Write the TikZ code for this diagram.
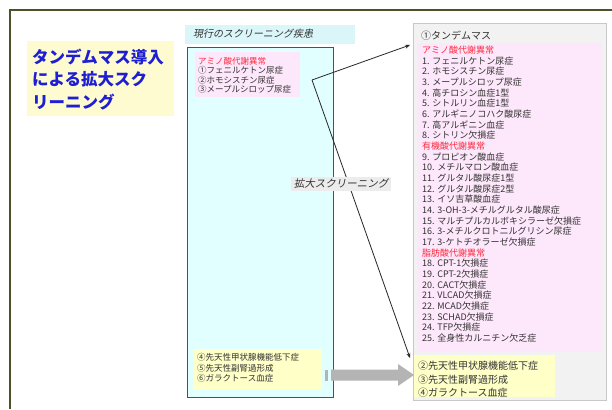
\documentclass[tikz,border=0pt]{standalone}
\usepackage{fontspec}
\setmainfont{Noto Sans CJK JP}
\newfontfamily\jpsl[FakeSlant=0.2]{Noto Sans CJK JP}
\usetikzlibrary{arrows.meta}
\definecolor{frameol}{RGB}{80,80,40}
\definecolor{cyanfill}{RGB}{226,255,255}
\definecolor{cyanband}{RGB}{218,246,248}
\definecolor{pinkfill}{RGB}{253,231,250}
\definecolor{yelfill}{RGB}{255,255,200}
\definecolor{titleyel}{RGB}{255,251,208}
\definecolor{titleblue}{RGB}{30,30,210}
\definecolor{grayfill}{RGB}{242,242,242}
\definecolor{grayline}{RGB}{200,200,200}
\definecolor{boxline}{RGB}{80,80,80}
\definecolor{txtgray}{RGB}{50,50,50}
\definecolor{headred}{RGB}{255,40,60}
\definecolor{arrgray}{RGB}{180,180,180}
\definecolor{lblbg}{RGB}{236,236,236}
\tikzset{
  txt/.style={anchor=base west, inner sep=0pt, text=txtgray},
  rtxt/.style={txt, font=\fontsize{9}{10}\selectfont},
  ltxt/.style={txt, font=\fontsize{8.5}{10}\selectfont},
  ytxt/.style={txt, font=\fontsize{10}{12}\selectfont},
  conn/.style={draw=black!85, line width=0.8pt, -{Stealth[length=5pt,width=4pt]}}
}
\begin{document}
\begin{tikzpicture}[x=1pt,y=-1pt]
\useasboundingbox (0,0) rectangle (612,409);
\fill[white] (0,0) rectangle (612,409);
% outer frame
\draw[frameol, line width=1.5pt] (10,409) -- (10,10) -- (612,10);
% title
\fill[titleyel] (27,41) rectangle (174,116);
\node[txt, text=titleblue, font=\fontsize{16.5}{20}\selectfont\bfseries] (t1) at (32,64) {タンデムマス導入};
\node[txt, text=titleblue, font=\fontsize{16.5}{20}\selectfont\bfseries] (t2) at (32,86) {による拡大スク};
\node[txt, text=titleblue, font=\fontsize{16.5}{20}\selectfont\bfseries] (t3) at (32,108) {リーニング};
% left header
\fill[cyanband] (185,25) rectangle (355,44);
\node[txt, font=\fontsize{10}{12}\selectfont\jpsl] (lhead) at (193,38) {現行のスクリーニング疾患};
% left box
\draw[boxline, fill=cyanfill, line width=0.8pt] (187,47) rectangle (333,397);
\fill[pinkfill] (195,52) rectangle (300,97);
\node[ltxt, text=headred] (l0) at (198,64.5) {アミノ酸代謝異常};
\node[ltxt] (l1) at (198,74) {①フェニルケトン尿症};
\node[ltxt] (l2) at (198,83.4) {②ホモシスチン尿症};
\node[ltxt] (l3) at (198,92.8) {③メープルシロップ尿症};
\fill[yelfill] (193,349) rectangle (322,390);
\node[ltxt] (l4) at (197,360.5) {④先天性甲状腺機能低下症};
\node[ltxt] (l5) at (197,371) {⑤先天性副腎過形成};
\node[ltxt] (l6) at (197,381.5) {⑥ガラクトース血症};
% right box
\draw[grayline, fill=grayfill, line width=1pt] (413,24) rectangle (606,400);
\node[txt, font=\fontsize{10}{12}\selectfont] (rhead) at (421,40) {①タンデムマス};
\fill[pinkfill] (417,43) rectangle (602,352);
\foreach \t [count=\i] in {
  {\textcolor{headred}{アミノ酸代謝異常}},
  1. フェニルケトン尿症,
  2. ホモシスチン尿症,
  3. メープルシロップ尿症,
  4. 高チロシン血症1型,
  5. シトルリン血症1型,
  6. アルギニノコハク酸尿症,
  7. 高アルギニン血症,
  8. シトリン欠損症,
  {\textcolor{headred}{有機酸代謝異常}},
  9. プロピオン酸血症,
  10. メチルマロン酸血症,
  11. グルタル酸尿症1型,
  12. グルタル酸尿症2型,
  13. イソ吉草酸血症,
  14. 3-OH-3-メチルグルタル酸尿症,
  15. マルチプルカルボキシラーゼ欠損症,
  16. 3-メチルクロトニルグリシン尿症,
  17. 3-ケトチオラーゼ欠損症,
  {\textcolor{headred}{脂肪酸代謝異常}},
  18. CPT-1欠損症,
  19. CPT-2欠損症,
  20. CACT欠損症,
  21. VLCAD欠損症,
  22. MCAD欠損症,
  23. SCHAD欠損症,
  24. TFP欠損症,
  25. 全身性カルニチン欠乏症}
  {\node[rtxt] (r\i) at (422,{53.5+10.67*(\i-1)}) {\t};}
\fill[yelfill] (414,355) rectangle (555,397);
\node[ytxt] (y1) at (418,369.5) {②先天性甲状腺機能低下症};
\node[ytxt] (y2) at (418,383) {③先天性副腎過形成};
\node[ytxt] (y3) at (418,396) {④ガラクトース血症};
% connectors
\coordinate (fork) at (312,80);
\coordinate (tgtA) at (410,45);
\coordinate (tgtB) at (410,358);
\draw[conn] (fork) -- (tgtA);
\draw[conn] (fork) -- (tgtB);
% label
\node[anchor=center, fill=lblbg, inner xsep=3pt, inner ysep=2pt, text=txtgray, font=\fontsize{10.5}{12}\selectfont\jpsl] (lbl) at (341,184) {拡大スクリーニング};
% gray block arrow
\fill[arrgray] (325,369.5) rectangle (328,380.5);
\fill[arrgray] (331,369.5) -- (398,369.5) -- (398,364) -- (414,375) -- (398,386) -- (398,380.5) -- (331,380.5) -- cycle;
\end{tikzpicture}
\end{document}
